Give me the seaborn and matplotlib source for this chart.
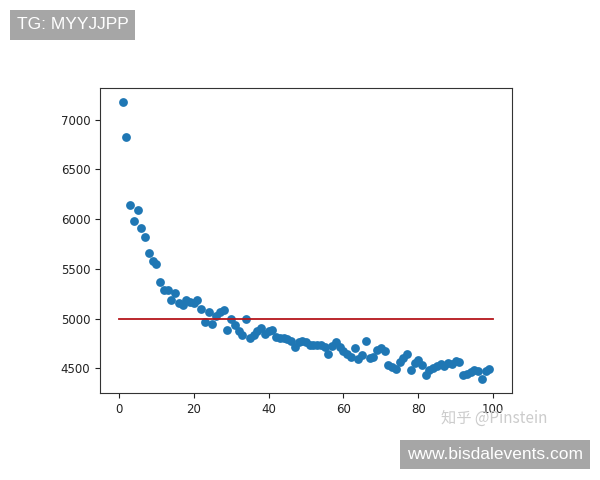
import matplotlib
matplotlib.use("Agg")
import matplotlib.pyplot as plt
from matplotlib.patches import Rectangle
import seaborn as sns
import pandas as pd

# data
steps = list(range(1, 100))
values = [7180, 6830, 6140, 5980, 6090, 5910, 5820, 5660, 5580, 5550,
          5370, 5290, 5290, 5190, 5260, 5160, 5140, 5190, 5170, 5160,
          5190, 5100, 4970, 5070, 4950, 5030, 5070, 5090, 4890, 5000,
          4940, 4870, 4830, 5000, 4800, 4830, 4880, 4910, 4840, 4870,
          4890, 4810, 4800, 4800, 4790, 4770, 4710, 4760, 4770, 4760,
          4730, 4730, 4730, 4730, 4710, 4640, 4720, 4760, 4710, 4670,
          4640, 4610, 4700, 4590, 4630, 4770, 4600, 4610, 4680, 4700,
          4670, 4530, 4510, 4490, 4560, 4600, 4640, 4480, 4550, 4580,
          4530, 4430, 4480, 4500, 4520, 4540, 4520, 4550, 4540, 4570,
          4560, 4430, 4440, 4460, 4480, 4470, 4390, 4470, 4490]
line_x = [0, 100]
line_y = [5000, 5000]

df = pd.DataFrame({"step": steps, "value": values})

fig = plt.figure(figsize=(6, 4.8), dpi=100)
ax = fig.add_axes([0.167, 0.181, 0.686, 0.636])

sns.scatterplot(data=df, x="step", y="value", ax=ax, color="#1f77b4",
                s=40, linewidth=0, legend=False)
ax.plot(line_x, line_y, color="#b5161b", linewidth=1.3)

ax.set_xlabel("")
ax.set_ylabel("")
ax.set_xticks([0, 20, 40, 60, 80, 100])
ax.set_yticks([4500, 5000, 5500, 6000, 6500, 7000])
ax.tick_params(labelsize=8.5, colors="#222222", length=3.5)
for sp in ax.spines.values():
    sp.set_color("#333333")

# overlays: grey label boxes and the watermark
fig.patches.append(Rectangle((0.0167, 0.9167), 0.2083, 0.0625, transform=fig.transFigure,
                             facecolor="#a6a6a6", edgecolor="none"))
fig.text(0.1208, 0.948, "TG: MYYJJPP", fontsize=12.5, color="white",
         va="center", ha="center", family="Liberation Sans")
fig.patches.append(Rectangle((0.667, 0.0229), 0.316, 0.0604, transform=fig.transFigure,
                             facecolor="#a6a6a6", edgecolor="none"))
fig.text(0.825, 0.053, "www.bisdalevents.com", fontsize=12.5, color="white",
         va="center", ha="center", family="Liberation Sans")
fig.text(0.735, 0.128, "知乎 @Pinstein", fontsize=11, color="#cccccc",
         va="center", ha="left", family=["Noto Sans CJK SC", "DejaVu Sans"])

fig.savefig("out.png", dpi=100)
